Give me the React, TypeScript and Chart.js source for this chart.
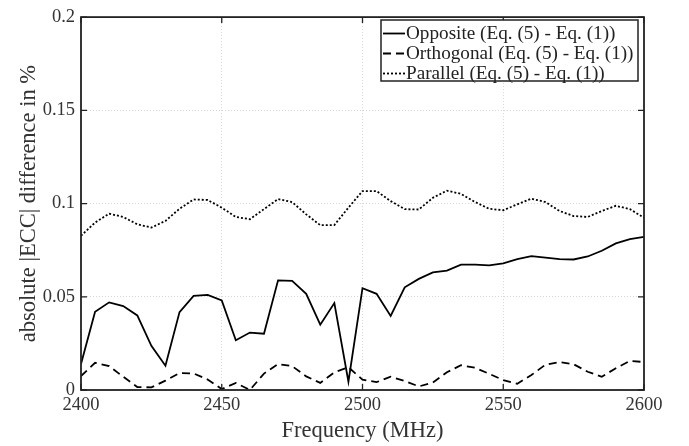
import React, { useEffect, useRef } from 'react';
import { Chart, registerables } from 'chart.js';

Chart.register(...registerables);

const frequencies = [
  2400, 2405, 2410, 2415, 2420, 2425, 2430, 2435, 2440, 2445,
  2450, 2455, 2460, 2465, 2470, 2475, 2480, 2485, 2490, 2495,
  2500, 2505, 2510, 2515, 2520, 2525, 2530, 2535, 2540, 2545,
  2550, 2555, 2560, 2565, 2570, 2575, 2580, 2585, 2590, 2595, 2600,
];

const oppositeValues = [
  0.014, 0.042, 0.047, 0.045, 0.040, 0.0237, 0.013, 0.0418, 0.0505, 0.051,
  0.048, 0.0267, 0.0308, 0.0302, 0.0588, 0.0585, 0.0516, 0.035, 0.0466, 0.0045,
  0.0546, 0.0516, 0.0397, 0.0551, 0.0596, 0.0631, 0.064, 0.0672, 0.0672, 0.0668,
  0.0679, 0.0702, 0.0718, 0.071, 0.0702, 0.070, 0.0716, 0.0747, 0.0786, 0.0809, 0.0821,
];

const orthogonalValues = [
  0.0075, 0.0146, 0.0128, 0.0071, 0.0016, 0.0014, 0.005, 0.0091, 0.0089, 0.0056,
  0.0005, 0.0038, 0.0, 0.0088, 0.0139, 0.0128, 0.0073, 0.0038, 0.0095, 0.0122,
  0.0056, 0.0042, 0.0071, 0.0048, 0.0019, 0.004, 0.0095, 0.0133, 0.0119, 0.0087,
  0.0053, 0.0034, 0.008, 0.0136, 0.015, 0.0138, 0.0098, 0.0071, 0.0117, 0.0156, 0.015,
];

const parallelValues = [
  0.0827, 0.0898, 0.0946, 0.0928, 0.0889, 0.0871, 0.0907, 0.0972, 0.1022, 0.1019,
  0.0978, 0.0928, 0.0916, 0.097, 0.1024, 0.1008, 0.0942, 0.0884, 0.0885, 0.0978,
  0.1067, 0.1067, 0.1013, 0.097, 0.0968, 0.1031, 0.1069, 0.1052, 0.1008, 0.0972,
  0.0964, 0.0996, 0.1026, 0.1008, 0.096, 0.0933, 0.0928, 0.096, 0.0988, 0.097, 0.0924,
];

const seriesLabels = [
  'Opposite (Eq. (5) - Eq. (1))',
  'Orthogonal (Eq. (5) - Eq. (1))',
  'Parallel (Eq. (5) - Eq. (1))',
];

const xTicks = [2400, 2450, 2500, 2550, 2600];
const yTicks = [0, 0.05, 0.1, 0.15, 0.2];
const yTickLabels = ['0', '0.05', '0.1', '0.15', '0.2'];
const xTitle = 'Frequency (MHz)';
const yTitle = 'absolute |ECC| difference in %';

const FONT = '"Liberation Serif", "Times New Roman", serif';
const AXIS_COLOR = '#222222';

const toPoints = (vals: number[]) => frequencies.map((f, i) => ({ x: f, y: vals[i] }));

const matlabAxes = {
  id: 'matlabAxes',
  afterDatasetsDraw(chart: any) {
    const { ctx, chartArea } = chart;
    const { left, right, top, bottom } = chartArea;
    const xs = chart.scales.x;
    const ys = chart.scales.y;
    const tl = 6;
    ctx.save();
    ctx.strokeStyle = AXIS_COLOR;
    ctx.lineWidth = 1.3;
    ctx.beginPath();
    xTicks.forEach((v) => {
      const px = xs.getPixelForValue(v);
      ctx.moveTo(px, bottom);
      ctx.lineTo(px, bottom - tl);
      ctx.moveTo(px, top);
      ctx.lineTo(px, top + tl);
    });
    yTicks.forEach((v) => {
      const py = ys.getPixelForValue(v);
      ctx.moveTo(left, py);
      ctx.lineTo(left + tl, py);
      ctx.moveTo(right, py);
      ctx.lineTo(right - tl, py);
    });
    ctx.stroke();
    ctx.lineWidth = 1.8;
    ctx.strokeRect(left, top, right - left, bottom - top);
    ctx.restore();
  },
  afterDraw(chart: any) {
    const { ctx } = chart;
    const boxL = 381;
    const boxT = 20;
    const boxR = 638;
    const boxB = 81;
    ctx.save();
    ctx.fillStyle = '#ffffff';
    ctx.fillRect(boxL, boxT, boxR - boxL, boxB - boxT);
    ctx.strokeStyle = AXIS_COLOR;
    ctx.lineWidth = 1.5;
    ctx.strokeRect(boxL, boxT, boxR - boxL, boxB - boxT);
    chart.data.datasets.forEach((ds: any, i: number) => {
      const y = 33.5 + i * 20;
      ctx.beginPath();
      ctx.setLineDash(ds.borderDash || []);
      ctx.strokeStyle = ds.borderColor;
      ctx.lineWidth = ds.borderWidth;
      ctx.moveTo(383, y);
      ctx.lineTo(405, y);
      ctx.stroke();
      ctx.setLineDash([]);
      ctx.fillStyle = '#222222';
      ctx.font = `19.2px ${FONT}`;
      ctx.textBaseline = 'middle';
      ctx.textAlign = 'left';
      ctx.fillText(ds.label, 406, y + 0.5);
    });
    ctx.restore();
  },
};

export default function App() {
  const canvasRef = useRef<HTMLCanvasElement | null>(null);

  useEffect(() => {
    if (!canvasRef.current) return;
    const chart = new Chart(canvasRef.current, {
      type: 'line',
      data: {
        datasets: [
          {
            label: seriesLabels[0],
            data: toPoints(oppositeValues),
            borderColor: '#000000',
            borderWidth: 1.8,
            borderDash: [],
            pointRadius: 0,
            fill: false,
            tension: 0,
          },
          {
            label: seriesLabels[1],
            data: toPoints(orthogonalValues),
            borderColor: '#000000',
            borderWidth: 1.8,
            borderDash: [8, 5],
            pointRadius: 0,
            fill: false,
            tension: 0,
          },
          {
            label: seriesLabels[2],
            data: toPoints(parallelValues),
            borderColor: '#000000',
            borderWidth: 1.8,
            borderDash: [2, 2],
            pointRadius: 0,
            fill: false,
            tension: 0,
          },
        ],
      },
      options: {
        responsive: false,
        animation: false,
        devicePixelRatio: 1,
        layout: { padding: { left: 0, right: 45, top: 15, bottom: 0 } },
        plugins: {
          legend: { display: false },
          tooltip: { enabled: false },
        },
        scales: {
          x: {
            type: 'linear',
            min: 2400,
            max: 2600,
            afterBuildTicks: (scale: any) => {
              scale.ticks = xTicks.map((v) => ({ value: v }));
            },
            afterFit: (scale: any) => {
              scale.height = 56;
            },
            ticks: {
              color: '#333333',
              font: { family: FONT, size: 18.5 },
              padding: 4,
              maxRotation: 0,
              callback: (v: any) => String(v),
            },
            grid: {
              color: '#d6d6d6',
              lineWidth: 1,
              drawTicks: false,
            },
            border: { display: false, dash: [1, 2] },
            title: {
              display: true,
              text: xTitle,
              color: '#333333',
              font: { family: FONT, size: 22.5 },
              padding: { top: 0, bottom: 1 },
            },
          },
          y: {
            type: 'linear',
            min: 0,
            max: 0.2,
            afterBuildTicks: (scale: any) => {
              scale.ticks = yTicks.map((v) => ({ value: v }));
            },
            afterFit: (scale: any) => {
              scale.width = 81;
            },
            ticks: {
              color: '#333333',
              font: { family: FONT, size: 18.5 },
              padding: 6,
              callback: (_v: any, i: number) => yTickLabels[i],
            },
            grid: {
              color: '#d6d6d6',
              lineWidth: 1,
              drawTicks: false,
            },
            border: { display: false, dash: [1, 2] },
            title: {
              display: true,
              text: yTitle,
              color: '#333333',
              font: { family: FONT, size: 22.5 },
              padding: { top: 16, bottom: 0 },
            },
          },
        },
      },
      plugins: [matlabAxes],
    } as any);
    return () => chart.destroy();
  }, []);

  return (
    <div style={{ position: 'fixed', left: 0, top: 0, width: 689, height: 446, background: '#ffffff' }}>
      <canvas ref={canvasRef} width={689} height={446} style={{ width: 689, height: 446 }} />
    </div>
  );
}
